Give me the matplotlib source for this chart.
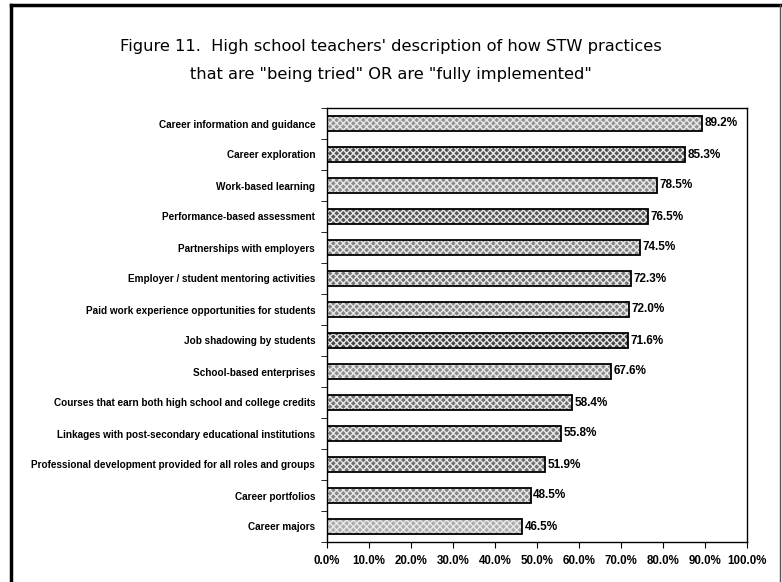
import matplotlib
matplotlib.use("Agg")
import matplotlib.pyplot as plt
from matplotlib.lines import Line2D
from matplotlib.ticker import FuncFormatter

# Практики STW и доля учителей (в процентах)
practices = [
    "Career information and guidance",
    "Career exploration",
    "Work-based learning",
    "Performance-based assessment",
    "Partnerships with employers",
    "Employer / student mentoring activities",
    "Paid work experience opportunities for students",
    "Job shadowing by students",
    "School-based enterprises",
    "Courses that earn both high school and college credits",
    "Linkages with post-secondary educational institutions",
    "Professional development provided for all roles and groups",
    "Career portfolios",
    "Career majors",
]
percents = [89.2, 85.3, 78.5, 76.5, 74.5, 72.3, 72.0, 71.6, 67.6, 58.4, 55.8, 51.9, 48.5, 46.5]

# оттенки заливки для каждой полосы
fills = ["#949494", "#545454", "#8c8c8c", "#585858", "#848484", "#767676", "#868686",
         "#464646", "#909090", "#727272", "#7a7a7a", "#6e6e6e", "#888888", "#acacac"]

label_font = ["Liberation Sans Narrow", "Liberation Sans", "DejaVu Sans"]

fig = plt.figure(figsize=(7.82, 5.82), dpi=100)
ax = fig.add_axes([327 / 782, 1 - 542 / 582, 420 / 782, 434 / 582])

y = list(range(len(practices)))[::-1]
ax.barh(y, percents, height=0.46, color=fills, hatch="xxxxx",
        edgecolor="#e8e8e8", linewidth=0)
ax.barh(y, percents, height=0.46, fill=False, edgecolor="black", linewidth=1.3)

for yi, v in zip(y, percents):
    ax.text(v + 0.6, yi, f"{v:.1f}%", va="center", ha="left",
            fontsize=8.5, fontweight="bold", family=label_font)

ax.set_xlim(0, 100)
ax.set_ylim(-0.5, len(practices) - 0.5)
ax.set_xticks(range(0, 101, 10))
ax.xaxis.set_major_formatter(FuncFormatter(lambda v, p: f"{v:.1f}%"))
ax.set_yticks(y)
ax.set_yticklabels(practices)
ax.set_yticks([i - 0.5 for i in range(len(practices) + 1)], minor=True)
ax.tick_params(axis="y", which="major", length=0, pad=8.5)
ax.tick_params(axis="y", which="minor", length=4, direction="out")
ax.tick_params(axis="x", length=4, direction="out", pad=5)
for lbl in ax.get_yticklabels():
    lbl.set_fontsize(7.2)
    lbl.set_fontweight("bold")
    lbl.set_family(label_font)
for lbl in ax.get_xticklabels():
    lbl.set_fontsize(8.3)
    lbl.set_fontweight("bold")
    lbl.set_family(label_font)
for s in ax.spines.values():
    s.set_linewidth(1.0)

fig.text(0.5, 1 - 47 / 582, "Figure 11.  High school teachers' description of how STW practices",
         ha="center", va="center", fontsize=11.7, fontweight="medium")
fig.text(0.5, 1 - 75 / 582, "that are \"being tried\" OR are \"fully implemented\"",
         ha="center", va="center", fontsize=11.7, fontweight="medium")

# рамка вокруг всего рисунка
x0, x1, ytop = 11 / 782, 780 / 782, 1 - 5 / 582
fig.add_artist(Line2D([x0, x0], [0, ytop], transform=fig.transFigure, color="black", lw=2.5))
fig.add_artist(Line2D([x0, x1], [ytop, ytop], transform=fig.transFigure, color="black", lw=2.5))
fig.add_artist(Line2D([x1, x1], [0, ytop], transform=fig.transFigure, color="#555555", lw=1.0))

fig.savefig("out.png", dpi=100)
